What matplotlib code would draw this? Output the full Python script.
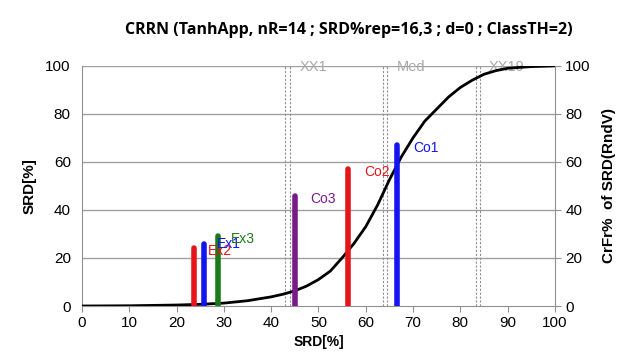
import matplotlib.pyplot as plt

# cumulative curve
curve_x = [0, 10, 20, 25, 30, 35, 40, 42.5, 45, 47.5, 50, 52.5, 55, 57.5, 60, 62.5,
           65, 67.5, 70, 72.5, 75, 77.5, 80, 82.5, 85, 87.5, 90, 95, 100]
curve_y = [0, 0.1, 0.4, 0.7, 1.2, 2.2, 3.8, 4.9, 6.3, 8.3, 11, 14.5, 20, 26, 33, 42,
           52.5, 62, 70, 77, 82, 87, 91, 94, 96.5, 98, 99, 99.7, 100]

# bars
bar_names = ['Ex2', 'Ex1', 'Ex3', 'Co3', 'Co2', 'Co1']
bar_x = [23.7, 25.8, 28.8, 45.0, 56.2, 66.6]
bar_h = [24, 26, 29, 46, 57, 67]
bar_colors = ['#e8141b', '#1414f0', '#1a7a1a', '#7a1a8a', '#e8141b', '#1414f0']
label_x = [26.6, 28.6, 31.4, 48.2, 59.6, 70.0]
label_y = [23, 26, 28, 44.5, 56, 66]

# dashed markers (pairs)
mark_names = ['XX1', 'Med', 'XX19']
mark_lo = [42.9, 63.6, 83.3]
mark_hi = [44.0, 64.5, 84.1]

plt.rcParams['font.family'] = ['Liberation Sans', 'DejaVu Sans']

fig = plt.figure(figsize=(6.4, 3.6), dpi=100)
ax = fig.add_axes([0.128, 0.15, 0.739, 0.667])

for y in range(20, 101, 20):
    ax.axhline(y, color='#a0a0a0', lw=1, zorder=0)

for name, lo, hi in zip(mark_names, mark_lo, mark_hi):
    ax.axvline(lo, color='#909090', lw=0.8, ls=(0, (2, 1.5)), zorder=1)
    ax.axvline(hi, color='#909090', lw=0.8, ls=(0, (2, 1.5)), zorder=1)
    ax.text(hi + 2.0, 99.5, name, color='#a8a8a8', fontsize=10.5, va='center', ha='left')

ax.plot(curve_x, curve_y, color='black', lw=2, zorder=3)

for x, h, c in zip(bar_x, bar_h, bar_colors):
    ax.plot([x, x], [0, h], color=c, lw=4, solid_capstyle='round', zorder=4)

for name, x, y, c in zip(bar_names, label_x, label_y, bar_colors):
    ax.text(x, y, name, color=c, fontsize=10, va='center', ha='left', zorder=5)

ax.set_xlim(0, 100)
ax.set_ylim(0, 100)
ax.set_xticks(range(0, 101, 10))
ax.set_yticks(range(0, 101, 20))
ax.spines['top'].set_visible(False)
for s in ['left', 'right', 'bottom']:
    ax.spines[s].set_color('#909090')
ax.tick_params(axis='both', labelsize=11, color='#909090', length=4)
ax.tick_params(axis='y', length=0, pad=8)

ax2 = ax.twinx()
ax2.set_ylim(0, 100)
ax2.set_yticks(range(0, 101, 20))
ax2.tick_params(axis='y', labelsize=11, color='#909090', length=4)
for s in ['top', 'left', 'right', 'bottom']:
    ax2.spines[s].set_visible(False)

ax.set_ylabel('SRD[%]', fontsize=11, fontweight='bold', labelpad=6)
ax2.set_ylabel('CrFr%  of SRD(RndV)', fontsize=11, fontweight='bold', labelpad=8)
ax.set_xlabel('SRD[%]', fontsize=10, fontweight='bold', labelpad=3)

fig.suptitle('CRRN (TanhApp, nR=14 ; SRD%rep=16,3 ; d=0 ; ClassTH=2)',
             x=0.545, y=0.94, fontsize=11.5, fontweight='bold', family=['Open Sans', 'DejaVu Sans'])

fig.savefig('out.png', dpi=100)
